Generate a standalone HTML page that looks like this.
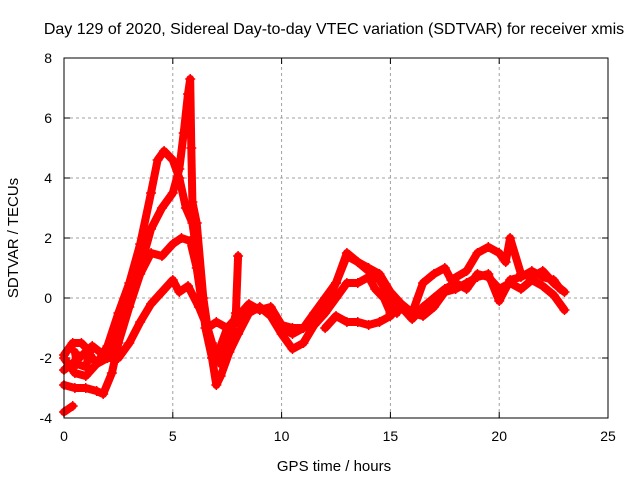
<!DOCTYPE html>
<html><head><meta charset="utf-8">
<style>
html,body{margin:0;padding:0;background:#fff;}
svg{display:block;font-family:"Liberation Sans",sans-serif;}
</style></head>
<body>
<svg id="chart" width="640" height="480" xmlns="http://www.w3.org/2000/svg">
<rect width="640" height="480" fill="#fff"/>
<text x="334" y="34" font-size="16" text-anchor="middle">Day 129 of 2020, Sidereal Day-to-day VTEC variation (SDTVAR) for receiver xmis</text>
<text x="334" y="471" font-size="15" text-anchor="middle">GPS time / hours</text>
<text x="18" y="238" font-size="15" text-anchor="middle" transform="rotate(-90 18 238)">SDTVAR / TECUs</text>
<g id="grid"></g>
<g id="ticks"></g>
<g id="series"></g>
<rect x="64" y="58" width="544" height="360" fill="none" stroke="#000" stroke-width="1"/>
</svg>
<script>
const xTicks=[0,5,10,15,20,25];
const yTicks=[-4,-2,0,2,4,6,8];
const track1=[[0,-2.0],[0.5,-2.5],[1,-2.6],[1.5,-2.2],[2,-1.6],[2.5,-0.5],[3,0.5],[3.5,1.8],[4,3.5],[4.3,4.6],[4.6,4.9],[5.0,4.6],[5.3,4.0],[5.6,3.0],[5.9,2.5],[6.2,1.0],[6.5,-1.0],[6.8,-2.0],[7.0,-2.9],[7.2,-2.6],[7.6,-1.8],[8,-1.2],[8.5,-0.5],[9,-0.3],[9.5,-0.6],[10,-1.2],[10.5,-1.7],[11,-1.5],[11.5,-0.9],[12,-0.3],[12.5,0.5],[13,1.4],[13.5,1.2],[14,0.9],[14.5,0.6],[15,0.0],[15.3,-0.5]];
const track2=[[0,-2.4],[0.7,-2.0],[1.3,-1.6],[2,-2.0],[2.5,-1.0],[3,-0.2],[3.5,1.0],[4,2.3],[4.5,3.0],[5,3.5],[5.3,4.3],[5.5,5.5],[5.7,6.8],[5.8,7.3],[5.85,5.0],[5.9,3.2],[6.1,2.5],[6.4,0.0],[6.7,-1.5],[7,-2.0],[7.5,-1.0],[8,-0.8],[8.5,-0.3],[9,-0.4]];
const track3=[[0,-2.9],[0.5,-3.0],[1,-3.0],[1.5,-3.1],[1.8,-3.2],[2.2,-2.5],[2.5,-1.5],[3,-0.3],[3.5,0.8],[4,1.5],[4.5,1.4],[5,1.8],[5.4,2.0],[5.8,1.9],[6.1,1.0],[6.4,-0.5],[6.8,-1.5],[7.2,-2.2],[7.6,-1.5],[7.9,-0.5],[8.0,1.4]];
const track4=[[1.2,-1.9],[1.5,-2.2],[2,-2.0],[2.5,-2.0],[3,-1.5],[3.5,-0.8],[4,-0.2],[4.5,0.2],[5,0.6],[5.3,0.2],[5.7,0.4],[6.2,-0.3],[6.6,-1.0],[7,-0.8],[7.5,-1.0],[8,-0.6],[8.5,-0.2],[9,-0.4],[9.5,-0.3],[10,-0.9],[10.5,-1.0],[11,-1.0]];
const track5=[[0,-3.8],[0.4,-3.6]];
const track6=[[0,-1.9],[0.4,-1.5],[0.8,-1.5],[1.2,-1.8],[1.0,-2.3],[0.6,-2.2],[0.5,-1.8]];
const trackR1=[[10,-1.0],[10.5,-1.2],[11,-1.0],[11.5,-0.5],[12,0.0],[12.5,0.5],[13,1.5],[13.5,1.2],[14,1.0],[14.5,0.8],[15,0.2],[15.5,-0.2],[16,-0.5],[16.5,0.5],[17,0.8],[17.5,1.0],[17.8,0.6],[18.5,0.9],[19,1.5],[19.5,1.7],[20,1.5],[20.3,1.2],[20.5,2.0],[21,0.8],[21.5,0.7],[22,0.9],[22.5,0.5],[23,0.2]];
const trackR2=[[11,-1.5],[11.5,-0.9],[12,-0.5],[12.5,0.0],[13,0.5],[13.5,0.5],[14,0.7],[14.3,0.3],[14.7,0.0],[15,-0.5],[15.5,-0.3],[16,-0.7],[16.5,-0.3],[17,0.0],[17.5,0.3],[18,0.5],[18.5,0.3],[19,0.8],[19.5,0.7],[20,0.3],[20.5,0.5],[21,0.3],[21.5,0.6],[22,0.4],[22.5,0.1],[23,-0.4]];
const trackR3=[[12,-1.0],[12.5,-0.6],[13,-0.8],[13.5,-0.8],[14,-0.9],[14.5,-0.8],[15,-0.6],[15.5,-0.2],[16,-0.5],[16.5,-0.6],[17,-0.3],[17.5,0.2],[18,0.3],[18.5,0.5],[19,0.7],[19.5,0.8],[20,-0.1],[20.5,0.6],[21,0.7],[21.5,0.9],[22,0.7],[22.5,0.6],[22.8,0.3]];
const tracks=[track1,track2,track3,track4,track5,track6,trackR1,trackR2,trackR3];

const X0=64,X1=608,Y0=418,Y1=58;
const xMin=0,xMax=25,yMin=-4,yMax=8;
function xs(v){return X0+(v-xMin)/(xMax-xMin)*(X1-X0);}
function ys(v){return Y0-(v-yMin)/(yMax-yMin)*(Y0-Y1);}
const NS='http://www.w3.org/2000/svg';
const grid=document.getElementById('grid'),ticks=document.getElementById('ticks'),ser=document.getElementById('series');
function mk(tag,attrs,parent){const e=document.createElementNS(NS,tag);for(const k in attrs)e.setAttribute(k,attrs[k]);parent.appendChild(e);return e;}
xTicks.forEach(t=>{
  const x=xs(t);
  if(t>xMin&&t<xMax){const g=mk('line',{x1:x,y1:Y0,x2:x,y2:Y1,stroke:'#a0a0a0','stroke-dasharray':'3,3'},grid);
    
    }
  mk('line',{x1:x,y1:Y0,x2:x,y2:Y0-6,stroke:'#000'},ticks);
  mk('line',{x1:x,y1:Y1,x2:x,y2:Y1+6,stroke:'#000'},ticks);
  const l=mk('text',{x:x,y:Y0+23,'font-size':14,'text-anchor':'middle'},ticks);l.textContent=t;
  
  
});
yTicks.forEach(t=>{
  const y=ys(t);
  if(t>yMin&&t<yMax){const g=mk('line',{x1:X0,y1:y,x2:X1,y2:y,stroke:'#a0a0a0','stroke-dasharray':'3,3'},grid);
    
    }
  mk('line',{x1:X0,y1:y,x2:X0+6,y2:y,stroke:'#000'},ticks);
  mk('line',{x1:X1,y1:y,x2:X1-6,y2:y,stroke:'#000'},ticks);
  const l=mk('text',{x:X0-12,y:y+5,'font-size':14,'text-anchor':'end'},ticks);l.textContent=t;
  
  
});
tracks.forEach((tr,i)=>{
  const pts=tr.map(p=>xs(p[0]).toFixed(1)+','+ys(p[1]).toFixed(1)).join(' ');
  const pl=mk('polyline',{points:pts,fill:'none',stroke:'#ff0000','stroke-width':8,'stroke-linejoin':'round','stroke-linecap':'round'},ser);
  
  
  let d='';
  tr.forEach(p=>{const x=xs(p[0]),y=ys(p[1]);d+=`M${x-5},${y}h10M${x},${y-5}v10`;});
  const m=mk('path',{d:d,stroke:'#ff0000','stroke-width':1.5,fill:'none'},ser);
  
  
});
</script>
</body></html>
